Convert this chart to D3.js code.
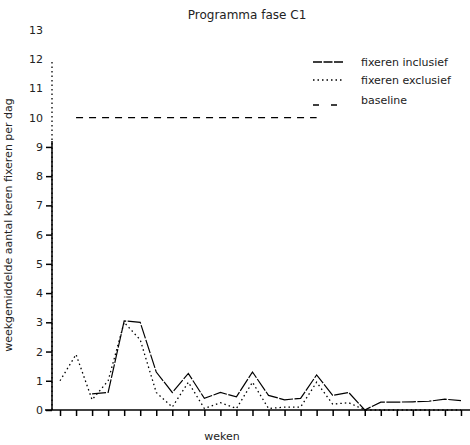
<!DOCTYPE html>
<html>
<head>
<meta charset="utf-8">
<script src="https://cdn.jsdelivr.net/npm/d3@7"></script>
<style>
  body { margin: 0; background: #fff; }
  text { font-family: "DejaVu Sans", sans-serif; fill: #222; }
</style>
</head>
<body>
<div id="chart"></div>
<script>
// data
const weeks = [1, 2, 3, 4, 5, 6, 7, 8, 9, 10, 11, 12, 13, 14, 15, 16, 17, 18, 19, 20, 21, 22, 23, 24, 25, 26];
const inclusief = [null, null, 0.55, 0.6, 3.05, 3.0, 1.3, 0.6, 1.25, 0.4, 0.6, 0.45, 1.3, 0.5, 0.35, 0.4, 1.2, 0.5, 0.6, 0.0, 0.27, 0.27, 0.28, 0.3, 0.37, 0.32];
const exclusief = [1.0, 1.9, 0.35, 1.0, 3.0, 2.4, 0.6, 0.1, 0.95, 0.05, 0.25, 0.05, 0.95, 0.05, 0.1, 0.1, 0.95, 0.2, 0.25, 0.0, 0, 0, 0, 0, 0, 0];
const baselineWeeks = [2, 17];
const baselineValue = 10;
const phaseWeek = 0.5;          // vertical dotted line at start
const phaseValues = [0, 12];
const yTicks = [0, 1, 2, 3, 4, 5, 6, 7, 8, 9, 10, 11, 12, 13];
const legendLabels = ["fixeren inclusief", "fixeren exclusief", "baseline"];

const width = 470, height = 445;
const margin = {top: 30, right: 1, bottom: 35, left: 52};

const svg = d3.select("#chart")
  .append("svg")
    .attr("width", width)
    .attr("height", height);

const x = d3.scaleLinear()
  .domain([0.5, 26.5])
  .range([margin.left, width - margin.right]);

const y = d3.scaleLinear()
  .domain([0, 13])
  .range([height - margin.bottom, margin.top]);

// title
svg.append("text")
  .attr("x", 247)
  .attr("y", 19)
  .attr("text-anchor", "middle")
  .style("font-size", "12px")
  .text("Programma fase C1");

// x axis
svg.append("line")
  .attr("x1", margin.left - 7)
  .attr("x2", width)
  .attr("y1", y(0))
  .attr("y2", y(0))
  .attr("stroke", "#000")
  .attr("stroke-width", 1.5);

svg.append("g")
  .attr("transform", `translate(0,${y(0)})`)
  .call(d3.axisBottom(x).tickValues(weeks).tickSize(6).tickFormat(""))
  .call(g => g.select(".domain").remove())
  .call(g => g.selectAll(".tick line").attr("stroke", "#000").attr("stroke-width", 1.5));

// y axis
svg.append("g")
  .attr("transform", `translate(${margin.left},0)`)
  .call(d3.axisLeft(y).tickValues(yTicks).tickSize(6).tickPadding(3))
  .call(g => g.select(".domain").remove())
  .call(g => g.selectAll(".tick line")
      .attr("stroke", "#000").attr("stroke-width", 1.5)
      .attr("x2", d => d > 9 ? 0 : -6))
  .call(g => g.selectAll(".tick text").style("font-size", "11px").attr("fill", "#222"));

svg.append("line")
  .attr("x1", margin.left)
  .attr("x2", margin.left)
  .attr("y1", y(0))
  .attr("y2", y(9.2))
  .attr("stroke", "#000")
  .attr("stroke-width", 1.5);

// axis labels
svg.append("text")
  .attr("x", 222)
  .attr("y", 440)
  .attr("text-anchor", "middle")
  .style("font-size", "11px")
  .text("weken");

svg.append("text")
  .attr("transform", `translate(12,${225}) rotate(-90)`)
  .attr("text-anchor", "middle")
  .style("font-size", "11px")
  .text("weekgemiddelde aantal keren fixeren per dag");

// series
const line = d3.line()
  .defined(d => d.value != null)
  .x(d => x(d.week))
  .y(d => y(d.value));

const incData = weeks.map((w, i) => ({week: w, value: inclusief[i]}));
const excData = weeks.map((w, i) => ({week: w, value: exclusief[i]}));
const baseData = baselineWeeks.map(w => ({week: w, value: baselineValue}));
const phaseData = phaseValues.map(v => ({week: phaseWeek, value: v}));

svg.append("path")
  .datum(phaseData)
  .attr("fill", "none")
  .attr("stroke", "#000")
  .attr("stroke-width", 1.3)
  .attr("stroke-dasharray", "1.5,3")
  .attr("d", line);

svg.append("path")
  .datum(baseData)
  .attr("fill", "none")
  .attr("stroke", "#000")
  .attr("stroke-width", 1.2)
  .attr("stroke-dasharray", "7,6")
  .attr("d", line);

svg.append("path")
  .datum(excData)
  .attr("fill", "none")
  .attr("stroke", "#000")
  .attr("stroke-width", 1.3)
  .attr("stroke-dasharray", "1.5,3")
  .attr("d", line);

svg.append("path")
  .datum(incData)
  .attr("fill", "none")
  .attr("stroke", "#000")
  .attr("stroke-width", 1.2)
  .attr("stroke-dasharray", "14,1.5")
  .attr("d", line);

// legend
const legendDash = ["9,1.5", "1.5,3", "6,12"];
const legendEnd = [343, 343, 337];
const legendY = [62, 80, 100];
legendLabels.forEach((lab, i) => {
  svg.append("line")
    .attr("x1", 313)
    .attr("x2", legendEnd[i])
    .attr("y1", legendY[i] + (i === 2 ? 5 : 0))
    .attr("y2", legendY[i] + (i === 2 ? 5 : 0))
    .attr("stroke", "#000")
    .attr("stroke-width", 1.3)
    .attr("stroke-dasharray", legendDash[i]);
  svg.append("text")
    .attr("x", 361)
    .attr("y", legendY[i] + 4)
    .style("font-size", "11px")
    .text(lab);
});
</script>
</body>
</html>
